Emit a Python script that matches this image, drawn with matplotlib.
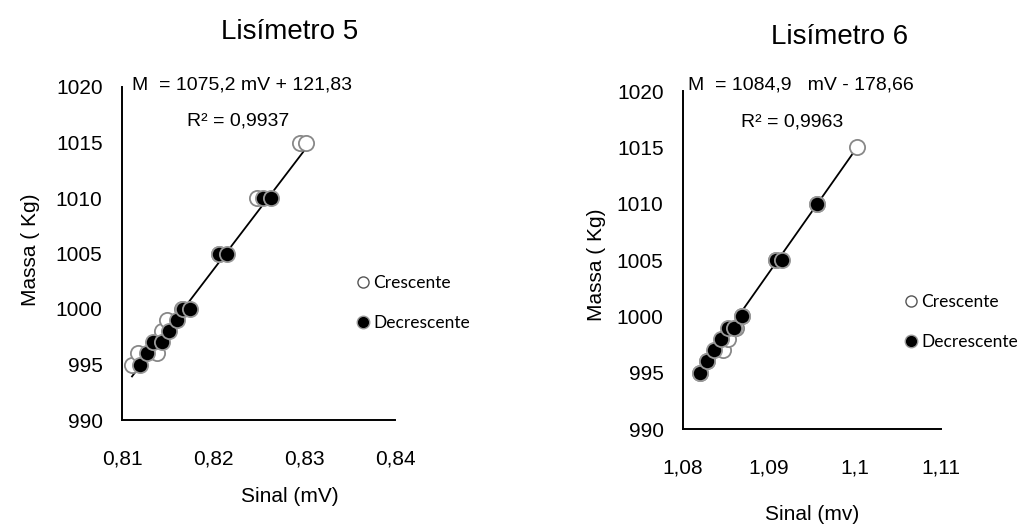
import matplotlib
matplotlib.use("Agg")
import matplotlib.pyplot as plt
from matplotlib.lines import Line2D

# Lisímetro 5 data
l5_cres_x = [0.8111, 0.8118, 0.8138, 0.8144, 0.8150, 0.8166, 0.8207, 0.8248, 0.8296, 0.8302]
l5_cres_m = [995, 996, 996, 998, 999, 1000, 1005, 1010, 1015, 1015]
l5_decr_x = [0.8120, 0.8128, 0.8134, 0.8144, 0.8152, 0.8160, 0.8167, 0.8175,
             0.8207, 0.8215, 0.8255, 0.8264]
l5_decr_m = [995, 996, 997, 997, 998, 999, 1000, 1000, 1005, 1005, 1010, 1010]
l5_coef = (1075.2, 121.83)
l5_fit_x = [0.8111, 0.8303]

# Lisímetro 6 data
l6_cres_x = [1.0820, 1.0828, 1.0847, 1.0852, 1.0862, 1.0869, 1.0908, 1.0956, 1.1002]
l6_cres_m = [995, 996, 997, 998, 999, 1000, 1005, 1010, 1015]
l6_decr_x = [1.0820, 1.0828, 1.0836, 1.0844, 1.0852, 1.0859, 1.0869,
             1.0908, 1.0915, 1.0956]
l6_decr_m = [995, 996, 997, 998, 999, 999, 1000, 1005, 1005, 1010]
l6_coef = (1084.9, -178.66)
l6_fit_x = [1.0818, 1.1002]

l5_xticks = [0.81, 0.82, 0.83, 0.84]
l5_xlabels = ["0,81", "0,82", "0,83", "0,84"]
l6_xticks = [1.08, 1.09, 1.10, 1.11]
l6_xlabels = ["1,08", "1,09", "1,1", "1,11"]
yticks = [990, 995, 1000, 1005, 1010, 1015, 1020]

W, H = 1021, 530
narrow = ["Liberation Sans", "DejaVu Sans"]
calib = ["Lato", "DejaVu Sans"]

fig = plt.figure(figsize=(W / 100, H / 100), dpi=100)


def px(x, y):
    return x / W, 1 - y / H


def panel(rect, cx, cm, dx, dm, coef, fitx, xticks, xlabels):
    left, top, right, bottom = rect
    ax = fig.add_axes([left / W, 1 - bottom / H, (right - left) / W, (bottom - top) / H])
    ax.set_xlim(xticks[0], xticks[-1])
    ax.set_ylim(990, 1020)
    ax.set_xticks(xticks, xlabels)
    ax.set_yticks(yticks, [str(v) for v in yticks])
    for s in ["top", "right"]:
        ax.spines[s].set_visible(False)
    for s in ["left", "bottom"]:
        ax.spines[s].set_linewidth(1.4)
    ax.tick_params(axis="x", length=0, pad=21, labelsize=15)
    ax.tick_params(axis="y", length=0, pad=14, labelsize=15)
    for lab in ax.get_xticklabels() + ax.get_yticklabels():
        lab.set_family(narrow)
    fy = [coef[0] * x + coef[1] for x in fitx]
    ax.plot(fitx, fy, color="black", lw=1.3, zorder=2)
    ax.scatter(cx, cm, s=120, facecolor="white", edgecolor="#888888", lw=1.3, zorder=3)
    ax.scatter(dx, dm, s=120, facecolor="black", edgecolor="#999999", lw=1.3, zorder=4)
    return ax


ax1 = panel((122, 87, 395, 420), l5_cres_x, l5_cres_m, l5_decr_x, l5_decr_m,
            l5_coef, l5_fit_x, l5_xticks, l5_xlabels)
ax2 = panel((683, 91, 941, 429), l6_cres_x, l6_cres_m, l6_decr_x, l6_decr_m,
            l6_coef, l6_fit_x, l6_xticks, l6_xlabels)

fig.text(*px(290, 32), "Lisímetro 5", ha="center", va="center", fontsize=20, family=narrow)
fig.text(*px(840, 37), "Lisímetro 6", ha="center", va="center", fontsize=20, family=narrow)

fig.text(*px(132, 85), "M  = 1075,2 mV + 121,83", ha="left", va="center", fontsize=14, family=narrow)
fig.text(*px(238, 121), "R² = 0,9937", ha="center", va="center", fontsize=14, family=narrow)
fig.text(*px(688, 85), "M  = 1084,9   mV - 178,66", ha="left", va="center", fontsize=14, family=narrow)
fig.text(*px(792, 122), "R² = 0,9963", ha="center", va="center", fontsize=14, family=narrow)

fig.text(*px(30, 250), "Massa ( Kg)", ha="center", va="center", rotation=90, fontsize=15, family=narrow)
fig.text(*px(596, 265), "Massa ( Kg)", ha="center", va="center", rotation=90, fontsize=15, family=narrow)
fig.text(*px(290, 496), "Sinal (mV)", ha="center", va="center", fontsize=15, family=narrow)
fig.text(*px(812, 515), "Sinal (mv)", ha="center", va="center", fontsize=15, family=narrow)

handles = [
    Line2D([], [], ls="none", marker="o", ms=8, mfc="white", mec="#555555", mew=1.0),
    Line2D([], [], ls="none", marker="o", ms=9, mfc="black", mec="#999999", mew=1.0),
]
for (lx, ly) in [(349, 303), (897, 322)]:
    fig.legend(handles, ["Crescente", "Decrescente"], loc="center left",
               bbox_to_anchor=px(lx, ly), frameon=False, prop={"family": calib, "size": 12.5},
               handlelength=0.6, handletextpad=0.3, labelspacing=1.4, borderpad=0)

fig.savefig("out.png", dpi=100)
